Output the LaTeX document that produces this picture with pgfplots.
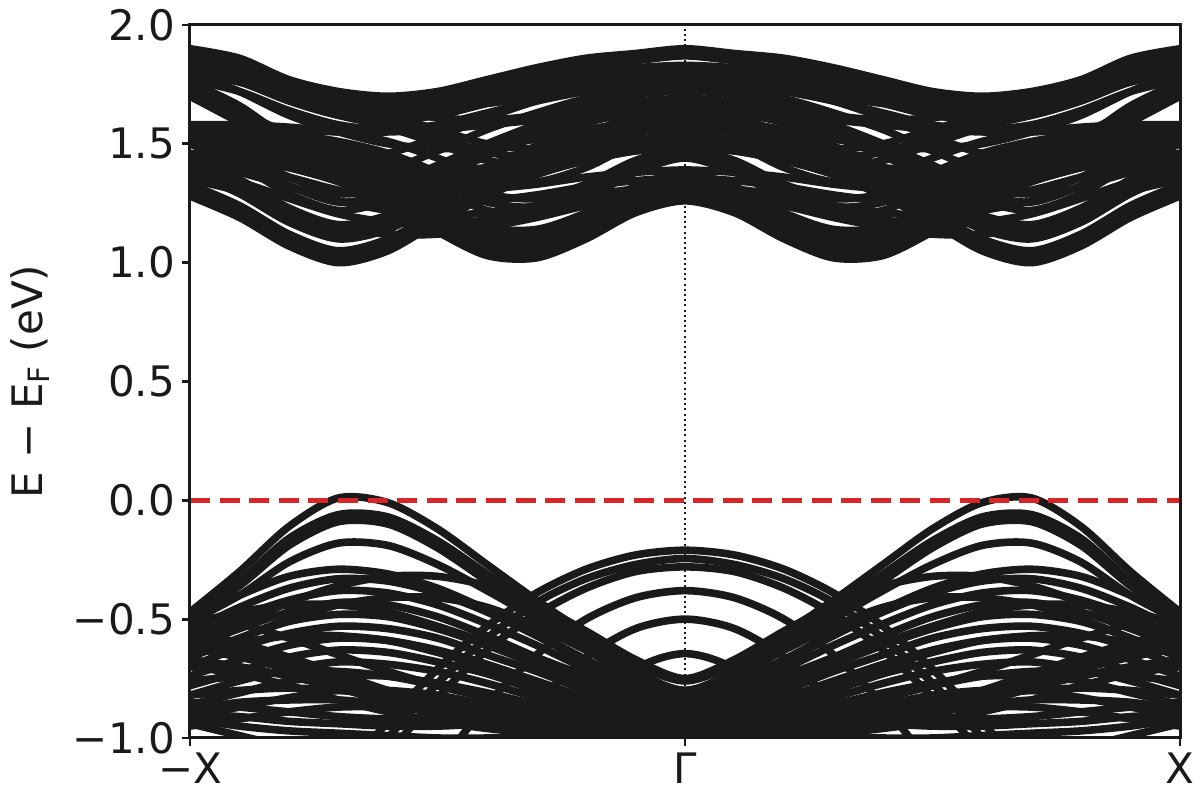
\documentclass[border=0pt]{standalone}
\usepackage{fontspec}
\setmainfont{DejaVu Sans}
\usepackage{pgfplots}
\pgfplotsset{compat=1.18}
\definecolor{bandc}{HTML}{1A1A1A}
\definecolor{efred}{HTML}{D62728}
\pgfplotsset{bandline/.style={color=bandc, line width=3.8pt, smooth, mark=none, line join=round}}
\makeatletter
\newcommand\sband[1]{\sb@a#1\relax}
\def\sb@a#1,#2,#3,#4,#5,#6,#7,#8,#9,{%
  \def\sb@i{#1}\def\sb@ii{#2}\def\sb@iii{#3}\def\sb@iv{#4}%
  \def\sb@v{#5}\def\sb@vi{#6}\def\sb@vii{#7}\def\sb@viii{#8}\def\sb@ix{#9}\sb@b}
\def\sb@b#1,#2\relax{%
  \edef\sb@cmd{\noexpand\addplot[bandline] coordinates {(-1,\sb@i) (-0.9,\sb@ii) (-0.8,\sb@iii) (-0.7,\sb@iv) (-0.6,\sb@v) (-0.5,\sb@vi) (-0.4,\sb@vii) (-0.3,\sb@viii) (-0.2,\sb@ix) (-0.1,#1) (0,#2) (0.1,#1) (0.2,\sb@ix) (0.3,\sb@viii) (0.4,\sb@vii) (0.5,\sb@vi) (0.6,\sb@v) (0.7,\sb@iv) (0.8,\sb@iii) (0.9,\sb@ii) (1,\sb@i)};}%
  \sb@cmd}
\makeatother
\begin{document}
\begin{tikzpicture}
\useasboundingbox (-95pt,-31pt) rectangle (505pt,369pt);
\begin{axis}[
  at={(0pt,0pt)}, anchor=south west,
  scale only axis, width=495pt, height=356.5pt,
  xmin=-1, xmax=1, ymin=-1, ymax=2,
  xtick={-1,0,1}, xticklabels={−X,Γ,X},
  ytick={-1,-0.5,0,0.5,1,1.5,2},
  yticklabels={−1.0,−0.5,0.0,0.5,1.0,1.5,2.0},
  tick pos=left, tick align=outside,
  major tick length=4pt,
  tick style={line width=1.4pt, color=bandc},
  axis line style={line width=1.5pt, color=bandc},
  axis on top,
  tick label style={font=\fontsize{21}{25}\selectfont, text=bandc},
  ylabel={E − E\textsubscript{F} (eV)},
  ylabel style={at={(axis description cs:-0.1616,0.5)}, anchor=center, font=\fontsize{21}{25}\selectfont, text=bandc},
]
% ---------------- conduction bands (values at x=-1.0,-0.9,...,0.0; mirrored) ----------------
\sband{1.28,1.19,1.07,1.00,1.05,1.17,1.28,1.37,1.43,1.47,1.48}
\sband{1.305,1.215,1.095,1.025,1.075,1.19,1.30,1.39,1.45,1.49,1.50}
\sband{1.33,1.24,1.12,1.05,1.10,1.21,1.32,1.41,1.47,1.51,1.52}
\sband{1.38,1.29,1.17,1.10,1.14,1.25,1.36,1.45,1.51,1.55,1.56}
\sband{1.41,1.32,1.20,1.13,1.17,1.275,1.38,1.47,1.53,1.57,1.58}
\sband{1.44,1.35,1.23,1.16,1.20,1.30,1.40,1.49,1.55,1.59,1.60}
\sband{1.50,1.41,1.29,1.22,1.26,1.35,1.45,1.53,1.59,1.63,1.64}
\sband{1.53,1.44,1.325,1.255,1.29,1.38,1.475,1.555,1.615,1.65,1.66}
\sband{1.56,1.47,1.36,1.29,1.32,1.41,1.50,1.58,1.64,1.67,1.68}
\sband{1.54,1.50,1.42,1.36,1.39,1.47,1.56,1.63,1.69,1.72,1.73}
\sband{1.76,1.66,1.52,1.44,1.46,1.53,1.61,1.68,1.73,1.76,1.77}
\sband{1.50,1.45,1.40,1.34,1.25,1.13,1.03,1.02,1.10,1.21,1.26}
\sband{1.51,1.46,1.41,1.35,1.265,1.145,1.045,1.035,1.115,1.225,1.275}
\sband{1.52,1.47,1.42,1.36,1.28,1.16,1.06,1.05,1.13,1.24,1.29}
\sband{1.54,1.50,1.45,1.39,1.31,1.19,1.09,1.08,1.16,1.27,1.32}
\sband{1.545,1.51,1.465,1.41,1.335,1.22,1.12,1.11,1.185,1.295,1.35}
\sband{1.55,1.52,1.48,1.43,1.36,1.25,1.15,1.14,1.21,1.32,1.38}
\sband{1.56,1.54,1.51,1.47,1.41,1.31,1.22,1.20,1.27,1.38,1.44}
\sband{1.565,1.55,1.525,1.49,1.435,1.345,1.255,1.235,1.30,1.405,1.46}
\sband{1.57,1.56,1.54,1.51,1.46,1.38,1.29,1.27,1.33,1.43,1.48}
\sband{1.58,1.58,1.57,1.55,1.51,1.44,1.36,1.34,1.40,1.50,1.55}
\sband{1.80,1.76,1.70,1.63,1.57,1.50,1.43,1.41,1.47,1.56,1.60}
\sband{1.82,1.78,1.72,1.655,1.595,1.53,1.465,1.445,1.505,1.59,1.63}
\sband{1.84,1.80,1.74,1.68,1.62,1.56,1.50,1.48,1.54,1.62,1.66}
\sband{1.90,1.86,1.77,1.72,1.70,1.72,1.77,1.82,1.86,1.88,1.90}
\sband{1.885,1.845,1.755,1.705,1.685,1.705,1.755,1.805,1.845,1.865,1.885}
\sband{1.87,1.83,1.74,1.69,1.67,1.69,1.74,1.79,1.83,1.85,1.87}
\sband{1.84,1.80,1.71,1.66,1.64,1.66,1.71,1.76,1.80,1.82,1.83}
\sband{1.82,1.78,1.695,1.64,1.62,1.64,1.69,1.74,1.78,1.80,1.81}
\sband{1.80,1.76,1.68,1.62,1.60,1.62,1.67,1.72,1.76,1.78,1.79}
\sband{1.77,1.72,1.64,1.58,1.56,1.58,1.63,1.68,1.72,1.74,1.75}
\sband{1.87,1.82,1.75,1.69,1.64,1.61,1.60,1.62,1.67,1.71,1.72}
\sband{1.89,1.85,1.76,1.70,1.67,1.66,1.67,1.70,1.74,1.77,1.78}
\sband{1.80,1.72,1.62,1.55,1.50,1.48,1.49,1.52,1.56,1.59,1.60}
\sband{1.85,1.78,1.69,1.62,1.58,1.57,1.58,1.61,1.65,1.68,1.69}
\sband{1.70,1.59,1.48,1.40,1.35,1.33,1.34,1.38,1.43,1.47,1.48}
\sband{1.72,1.615,1.51,1.43,1.38,1.36,1.37,1.41,1.46,1.495,1.505}
\sband{1.74,1.64,1.54,1.46,1.41,1.39,1.40,1.44,1.49,1.52,1.53}
\sband{1.57,1.57,1.56,1.55,1.55,1.56,1.58,1.60,1.62,1.63,1.64}
\sband{1.46,1.44,1.40,1.35,1.32,1.30,1.31,1.33,1.36,1.38,1.39}
\sband{1.44,1.41,1.36,1.305,1.27,1.25,1.26,1.285,1.32,1.345,1.355}
\sband{1.42,1.38,1.32,1.26,1.22,1.20,1.21,1.24,1.28,1.31,1.32}
\sband{1.39,1.34,1.27,1.205,1.17,1.16,1.18,1.215,1.26,1.295,1.305}
\sband{1.35,1.30,1.22,1.15,1.12,1.12,1.15,1.19,1.24,1.28,1.29}
% ---------------- valence bands ----------------
\sband{-0.47,-0.30,-0.11,0.01,-0.01,-0.12,-0.27,-0.42,-0.56,-0.69,-0.76}
\sband{-0.48,-0.34,-0.16,-0.06,-0.07,-0.17,-0.31,-0.45,-0.59,-0.72,-0.80}
\sband{-0.49,-0.36,-0.19,-0.09,-0.10,-0.20,-0.34,-0.48,-0.62,-0.75,-0.83}
\sband{-0.51,-0.40,-0.26,-0.18,-0.19,-0.27,-0.38,-0.50,-0.63,-0.74,-0.80}
\sband{-0.50,-0.40,-0.32,-0.29,-0.31,-0.37,-0.46,-0.56,-0.67,-0.77,-0.84}
\sband{-0.55,-0.45,-0.37,-0.33,-0.34,-0.39,-0.47,-0.57,-0.68,-0.78,-0.85}
\sband{-0.58,-0.49,-0.42,-0.38,-0.39,-0.44,-0.52,-0.61,-0.71,-0.80,-0.87}
\sband{-0.62,-0.54,-0.47,-0.43,-0.44,-0.49,-0.57,-0.66,-0.74,-0.82,-0.88}
\sband{-0.66,-0.58,-0.51,-0.48,-0.49,-0.54,-0.61,-0.69,-0.77,-0.84,-0.90}
\sband{-0.70,-0.62,-0.56,-0.53,-0.54,-0.58,-0.65,-0.72,-0.80,-0.86,-0.91}
\sband{-0.74,-0.67,-0.61,-0.58,-0.59,-0.63,-0.69,-0.76,-0.83,-0.88,-0.93}
\sband{-0.78,-0.72,-0.66,-0.63,-0.64,-0.68,-0.73,-0.80,-0.86,-0.91,-0.95}
\sband{-0.82,-0.76,-0.71,-0.68,-0.69,-0.72,-0.77,-0.83,-0.89,-0.93,-0.97}
\sband{-0.86,-0.81,-0.76,-0.74,-0.74,-0.77,-0.81,-0.86,-0.91,-0.95,-0.99}
\sband{-0.91,-0.87,-0.83,-0.80,-0.80,-0.82,-0.86,-0.90,-0.94,-0.97,-1.00}
\sband{-0.95,-0.92,-0.89,-0.87,-0.87,-0.89,-0.92,-0.95,-0.98,-1.01,-1.03}
\sband{-0.60,-0.52,-0.43,-0.36,-0.32,-0.32,-0.36,-0.44,-0.55,-0.67,-0.75}
\sband{-0.66,-0.58,-0.50,-0.44,-0.41,-0.41,-0.45,-0.53,-0.63,-0.73,-0.80}
\sband{-0.52,-0.47,-0.44,-0.44,-0.47,-0.53,-0.60,-0.68,-0.76,-0.83,-0.87}
\sband{-0.64,-0.60,-0.57,-0.57,-0.59,-0.64,-0.70,-0.77,-0.84,-0.89,-0.92}
\sband{-0.76,-0.74,-0.72,-0.72,-0.74,-0.78,-0.83,-0.88,-0.92,-0.95,-0.97}
\sband{-0.82,-0.80,-0.79,-0.80,-0.82,-0.85,-0.88,-0.90,-0.91,-0.91,-0.91}
\sband{-0.88,-0.85,-0.84,-0.84,-0.86,-0.89,-0.93,-0.96,-0.98,-0.99,-0.99}
\sband{-0.48,-0.52,-0.58,-0.65,-0.72,-0.78,-0.83,-0.87,-0.90,-0.92,-0.93}
\sband{-0.55,-0.60,-0.66,-0.73,-0.80,-0.86,-0.90,-0.93,-0.95,-0.96,-0.97}
\sband{-0.58,-0.63,-0.69,-0.75,-0.81,-0.87,-0.92,-0.96,-0.99,-1.01,-1.02}
\sband{-0.62,-0.66,-0.71,-0.77,-0.83,-0.88,-0.92,-0.95,-0.97,-0.98,-0.99}
\sband{-0.67,-0.70,-0.74,-0.79,-0.85,-0.90,-0.94,-0.97,-0.99,-1.00,-1.00}
\sband{-0.70,-0.73,-0.78,-0.84,-0.89,-0.93,-0.96,-0.98,-1.00,-1.01,-1.01}
\sband{-0.94,-0.99,-1.04,-1.08,-1.10,-1.11,-1.12,-1.12,-1.12,-1.12,-1.12}
\sband{-0.90,-0.91,-0.93,-0.94,-0.95,-0.95,-0.94,-0.93,-0.91,-0.89,-0.88}
\sband{-0.92,-0.95,-0.97,-0.98,-0.99,-1.00,-1.00,-0.99,-0.98,-0.97,-0.96}
\sband{-0.85,-0.87,-0.89,-0.91,-0.92,-0.92,-0.91,-0.89,-0.86,-0.84,-0.83}
\sband{-2.21,-1.83,-1.49,-1.19,-0.93,-0.71,-0.53,-0.39,-0.29,-0.23,-0.21}
\sband{-2.35,-1.95,-1.59,-1.27,-1.00,-0.77,-0.58,-0.43,-0.33,-0.27,-0.245}
\sband{-2.48,-2.06,-1.69,-1.36,-1.07,-0.83,-0.63,-0.48,-0.37,-0.30,-0.28}
\sband{-3.38,-2.81,-2.30,-1.85,-1.46,-1.13,-0.86,-0.65,-0.50,-0.41,-0.38}
\sband{-4.50,-3.74,-3.06,-2.46,-1.94,-1.50,-1.14,-0.86,-0.66,-0.54,-0.50}
\sband{-7.10,-5.90,-4.80,-3.83,-2.99,-2.27,-1.685,-1.23,-0.905,-0.71,-0.645}
\sband{-2.35,-2.065,-1.81,-1.585,-1.39,-1.225,-1.09,-0.985,-0.91,-0.865,-0.85}
\sband{-1.92,-1.73,-1.56,-1.41,-1.28,-1.17,-1.08,-1.01,-0.96,-0.93,-0.92}
% ---------------- reference lines ----------------
\addplot[color=bandc, line width=1pt, dash pattern=on 1pt off 1.6pt] coordinates {(0,-1) (0,2)};
\addplot[color=efred, line width=2.8pt, dash pattern=on 10pt off 4.8pt] coordinates {(-1,0) (1,0)};
\end{axis}
\end{tikzpicture}
\end{document}
